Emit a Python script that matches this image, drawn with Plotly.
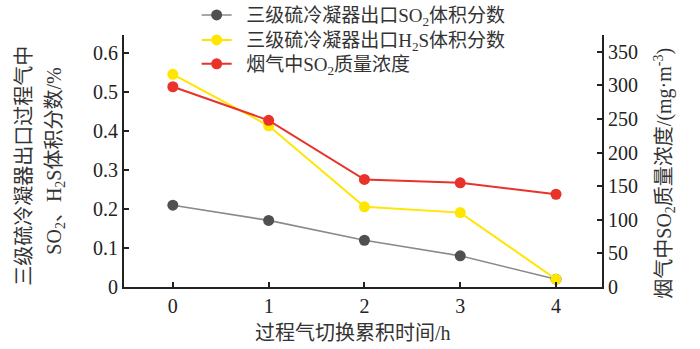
import plotly.graph_objects as go

# Process-gas switching time (h)
hours = [0, 1, 2, 3, 4]
# Third-stage sulfur condenser outlet volume fractions (%)
so2_vol = [0.21, 0.171, 0.12, 0.08, 0.02]
h2s_vol = [0.546, 0.414, 0.206, 0.191, 0.02]
# SO2 mass concentration in flue gas (mg/m3)
so2_mass = [298, 248, 160, 155, 138]

x_ticks = [0, 1, 2, 3, 4]
left_ticks = [0, 0.1, 0.2, 0.3, 0.4, 0.5, 0.6]
right_ticks = [0, 50, 100, 150, 200, 250, 300, 350]

names = [
    "三级硫冷凝器出口SO<sub>2</sub>体积分数",
    "三级硫冷凝器出口H<sub>2</sub>S体积分数",
    "烟气中SO<sub>2</sub>质量浓度",
]

FONT = "Liberation Serif, Noto Sans CJK SC"
TXT = "#222222"

fig = go.Figure()
fig.add_trace(go.Scatter(
    x=hours, y=so2_vol, name="&nbsp;&nbsp;" + names[0], mode="lines+markers",
    legend="legend",
    line=dict(color="#8a8a8a", width=1.6),
    marker=dict(color="#505050", size=11),
))
fig.add_trace(go.Scatter(
    x=hours, y=h2s_vol, name="&nbsp;&nbsp;" + names[1], mode="lines+markers",
    legend="legend2",
    line=dict(color="#ffe600", width=2),
    marker=dict(color="#ffe600", size=11),
))
fig.add_trace(go.Scatter(
    x=hours, y=so2_mass, name="&nbsp;&nbsp;" + names[2], mode="lines+markers",
    yaxis="y2", legend="legend3",
    line=dict(color="#e8322a", width=2),
    marker=dict(color="#e8322a", size=11),
))

axis_common = dict(
    showgrid=False, zeroline=False, showline=True, linecolor="#222222",
    linewidth=2, ticks="inside", ticklen=5, tickwidth=1.5, tickcolor="#222222",
    tickfont=dict(family=FONT, size=20, color=TXT),
)


def legend_box(ypos):
    return dict(
        x=0.152, y=ypos, xanchor="left", yanchor="middle",
        bgcolor="rgba(0,0,0,0)", borderwidth=0,
        font=dict(family=FONT, size=19, color="#333333"),
        itemwidth=30,
    )


fig.update_layout(
    width=700, height=349,
    margin=dict(l=124, r=98, t=35, b=62, autoexpand=False),
    paper_bgcolor="white", plot_bgcolor="white",
    font=dict(family=FONT, color=TXT),
    showlegend=True,
    legend=legend_box(1.079),
    legend2=legend_box(0.980),
    legend3=legend_box(0.885),
    xaxis=dict(
        range=[-0.51, 4.48], tickvals=x_ticks, ticktext=[str(v) for v in x_ticks],
        **axis_common,
    ),
    yaxis=dict(
        range=[0, 0.647], tickvals=left_ticks,
        ticktext=["0" if v == 0 else f"{v:.1f}" for v in left_ticks],
        **axis_common,
    ),
    yaxis2=dict(
        overlaying="y", side="right", range=[0, 375], tickvals=right_ticks,
        ticktext=[str(v) for v in right_ticks], **axis_common,
    ),
    annotations=[
        dict(text="过程气切换累积时间/h", xref="paper", yref="paper",
             x=0.48, y=-0.183, xanchor="center", yanchor="middle", showarrow=False,
             font=dict(family=FONT, size=20, color="#333333")),
        dict(text="三级硫冷凝器出口过程气中", xref="paper", yref="paper",
             x=-0.21, y=0.48, xanchor="center", yanchor="middle", textangle=-90,
             showarrow=False, font=dict(family=FONT, size=20, color="#333333")),
        dict(text="SO<sub>2</sub>、H<sub>2</sub>S体积分数/%", xref="paper", yref="paper",
             x=-0.145, y=0.50, xanchor="center", yanchor="middle", textangle=-90,
             showarrow=False, font=dict(family=FONT, size=20, color="#333333")),
        dict(text="烟气中SO<sub>2</sub>质量浓度/(mg·m<sup>-3</sup>)", xref="paper", yref="paper",
             x=1.13, y=0.45, xanchor="center", yanchor="middle", textangle=-90,
             showarrow=False, font=dict(family=FONT, size=20, color="#333333")),
    ],
)

fig.write_html("out.html")
